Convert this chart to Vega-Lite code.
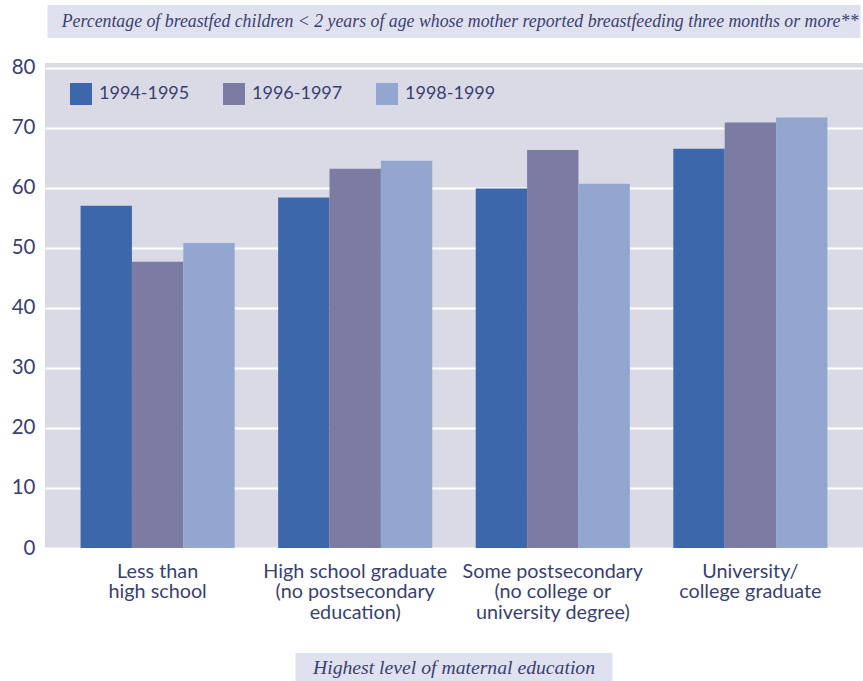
{
  "$schema": "https://vega.github.io/schema/vega-lite/v6.json",
  "padding": {"left": 5, "top": 5, "right": 0, "bottom": 0},
  "background": "white",
  "spacing": 19,
  "center": true,
  "resolve": {"legend": {"color": "independent"}},
  "config": {"view": {"stroke": null}, "font": "Lato"},
  "vconcat": [
    {
      "width": 813,
      "height": 33,
      "view": {"fill": "#dfe1ef", "stroke": null},
      "data": {"values": [{"k": "a", "t": "Percentage of breastfed children < 2 years of age whose mother reported breastfeeding three months or more**"}]},
      "mark": {"type": "text", "font": "Liberation Serif", "fontStyle": "italic", "fontSize": 17.8, "color": "#3b3f70", "dx": 6},
      "encoding": {
        "text": {"field": "t"},
        "x": {"field": "k", "type": "nominal", "axis": null},
        "y": {"field": "k", "type": "nominal", "axis": {"labels": false, "ticks": false, "domain": false, "grid": false, "title": null, "minExtent": 40, "maxExtent": 40}}
      }
    },
    {
      "width": 818,
      "height": 485,
      "view": {"fill": "#dadae6", "stroke": null},
      "data": {"values": [
        {"edu": "Less than|high school", "period": "1994-1995", "value": 57.0},
        {"edu": "Less than|high school", "period": "1996-1997", "value": 47.7},
        {"edu": "Less than|high school", "period": "1998-1999", "value": 50.8},
        {"edu": "High school graduate|(no postsecondary|education)", "period": "1994-1995", "value": 58.4},
        {"edu": "High school graduate|(no postsecondary|education)", "period": "1996-1997", "value": 63.2},
        {"edu": "High school graduate|(no postsecondary|education)", "period": "1998-1999", "value": 64.5},
        {"edu": "Some postsecondary|(no college or|university degree)", "period": "1994-1995", "value": 59.9},
        {"edu": "Some postsecondary|(no college or|university degree)", "period": "1996-1997", "value": 66.3},
        {"edu": "Some postsecondary|(no college or|university degree)", "period": "1998-1999", "value": 60.7},
        {"edu": "University/|college graduate", "period": "1994-1995", "value": 66.5},
        {"edu": "University/|college graduate", "period": "1996-1997", "value": 70.9},
        {"edu": "University/|college graduate", "period": "1998-1999", "value": 71.7}
      ]},
      "mark": {"type": "bar"},
      "encoding": {
        "x": {
          "field": "edu", "type": "nominal",
          "sort": ["Less than|high school", "High school graduate|(no postsecondary|education)", "Some postsecondary|(no college or|university degree)", "University/|college graduate"],
          "scale": {"paddingInner": 0.22, "paddingOuter": 0.18},
          "axis": {"title": null, "labelAngle": 0, "domain": false, "ticks": false, "labelPadding": 13, "labelFontSize": 19.8, "labelLineHeight": 20.8, "labelColor": "#3b3f70", "labelLimit": 0, "labelExpr": "split(datum.label, '|')", "minExtent": 86, "maxExtent": 86}
        },
        "xOffset": {"field": "period", "type": "nominal", "scale": {"paddingInner": 0, "paddingOuter": 0}},
        "y": {
          "field": "value", "type": "quantitative",
          "scale": {"domain": [0, 80.8], "nice": false},
          "axis": {"title": null, "values": [0, 10, 20, 30, 40, 50, 60, 70, 80], "grid": true, "gridColor": "white", "gridWidth": 2, "domain": false, "ticks": false, "labelPadding": 10, "labelFontSize": 20.5, "labelColor": "#3b3f70", "minExtent": 40, "maxExtent": 40}
        },
        "color": {
          "field": "period", "type": "nominal",
          "scale": {"domain": ["1994-1995", "1996-1997", "1998-1999"], "range": ["#3c68ab", "#7b7ba3", "#93a6cf"]},
          "legend": {"orient": "none", "legendX": 25, "legendY": 20, "direction": "horizontal", "title": null, "symbolType": "square", "symbolSize": 484, "symbolStrokeWidth": 0, "symbolOpacity": 1, "labelFontSize": 18, "labelColor": "#3b3f70", "labelOffset": 7, "columnPadding": 33}
        }
      }
    },
    {
      "width": 317,
      "height": 29,
      "view": {"fill": "#dfe1ef", "stroke": null},
      "data": {"values": [{"k": "a", "t": "Highest level of maternal education"}]},
      "mark": {"type": "text", "font": "Liberation Serif", "fontStyle": "italic", "fontSize": 19.7, "color": "#3b3f70"},
      "encoding": {
        "text": {"field": "t"},
        "x": {"field": "k", "type": "nominal", "axis": null},
        "y": {"field": "k", "type": "nominal", "axis": {"labels": false, "ticks": false, "domain": false, "grid": false, "title": null, "minExtent": 45, "maxExtent": 45}}
      }
    }
  ]
}
